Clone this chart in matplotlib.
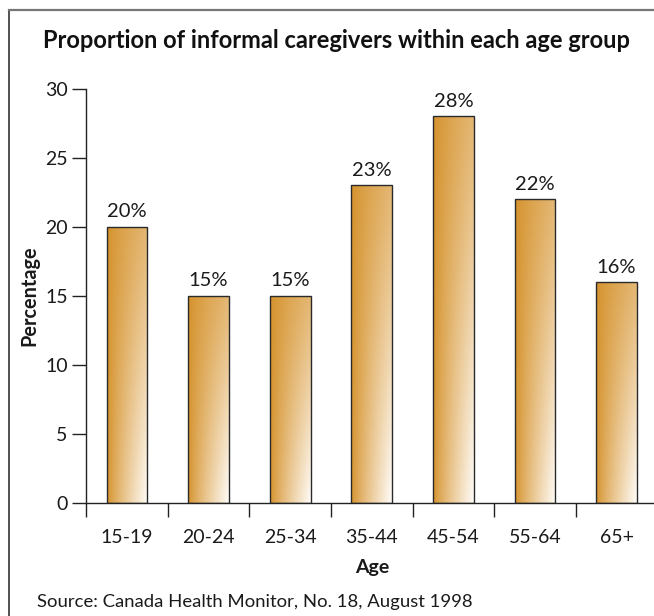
import numpy as np
import matplotlib
matplotlib.use("Agg")
import matplotlib.pyplot as plt
from matplotlib.patches import Rectangle
from matplotlib.lines import Line2D

categories = ["15-19", "20-24", "25-34", "35-44", "45-54", "55-64", "65+"]
values = [20, 15, 15, 23, 28, 22, 16]
yticks = [0, 5, 10, 15, 20, 25, 30]

plt.rcParams['font.family'] = ['Lato', 'DejaVu Sans']
TXT = '#1a1a1a'

W, H = 654, 616
fig = plt.figure(figsize=(W / 100, H / 100), dpi=100)

def px(x0, y0, x1, y1):
    return [x0 / W, 1 - y1 / H, (x1 - x0) / W, (y1 - y0) / H]

ax = fig.add_axes(px(86.2, 88.7, 657.4, 502.7))
n = len(categories)

dark = np.array([213, 146, 44]) / 255
light = np.array([255, 252, 248]) / 255
gx, gy = np.meshgrid(np.linspace(0, 1, 60), np.linspace(0, 1, 200))
t = (gx ** 0.85) * (0.35 + 0.65 * gy ** 1.1)
t = np.clip(t, 0, 1)
img = dark[None, None, :] * (1 - t[..., None]) + light[None, None, :] * t[..., None]

bw = 0.5
for i, v in enumerate(values):
    rect = Rectangle((i - bw / 2, 0), bw, v, facecolor='none', edgecolor='#2a2a2a',
                     linewidth=1.0, zorder=3)
    ax.add_patch(rect)
    im = ax.imshow(img, extent=(i - bw / 2, i + bw / 2, 0, v), origin='upper',
                   aspect='auto', zorder=2, interpolation='bilinear')
    im.set_clip_path(rect)
    ax.text(i, v + 0.45, f"{v}%", ha='center', va='bottom', fontsize=14.5, color=TXT)

ax.set_xlim(-0.5, n - 0.5)
ax.set_ylim(0, 30)

for s in ['top', 'right']:
    ax.spines[s].set_visible(False)
for s in ['left', 'bottom']:
    ax.spines[s].set_linewidth(1.0)
    ax.spines[s].set_color('#222222')

ax.set_yticks(yticks)
ax.set_yticklabels([str(y) for y in yticks])
ax.tick_params(axis='y', length=10.3, width=1.0, pad=3, labelsize=14,
               color='#222222', labelcolor=TXT)
ax.set_xticks(range(n))
ax.set_xticklabels(categories)
ax.tick_params(axis='x', which='major', length=0, pad=19, labelsize=14, labelcolor=TXT)
ax.set_xticks(np.arange(-0.5, n, 1.0), minor=True)
ax.tick_params(axis='x', which='minor', length=10, width=1.0, color='#222222')

fig.text(29 / W, 1 - 295.5 / H, "Percentage", rotation=90, ha='center', va='center',
         fontsize=14.3, fontweight='bold', color=TXT)
fig.text(372 / W, 1 - 567 / H, "Age", ha='center', va='center',
         fontsize=14, fontweight='bold', color=TXT)
fig.text(43 / W, 1 - 48 / H, "Proportion of informal caregivers within each age group",
         ha='left', va='baseline', fontsize=17, fontweight='bold', color='#111111')
fig.text(37 / W, 1 - 607 / H, "Source: Canada Health Monitor, No. 18, August 1998",
         ha='left', va='baseline', fontsize=13.3, color=TXT)

# frame
fig.add_artist(Line2D([9 / W, 9 / W], [0, 1 - 10 / H], transform=fig.transFigure,
                      color='#333333', linewidth=1.2))
fig.add_artist(Line2D([9 / W, 1], [1 - 10 / H, 1 - 10 / H], transform=fig.transFigure,
                      color='#777777', linewidth=1.6))

fig.savefig("out.png", dpi=100)
